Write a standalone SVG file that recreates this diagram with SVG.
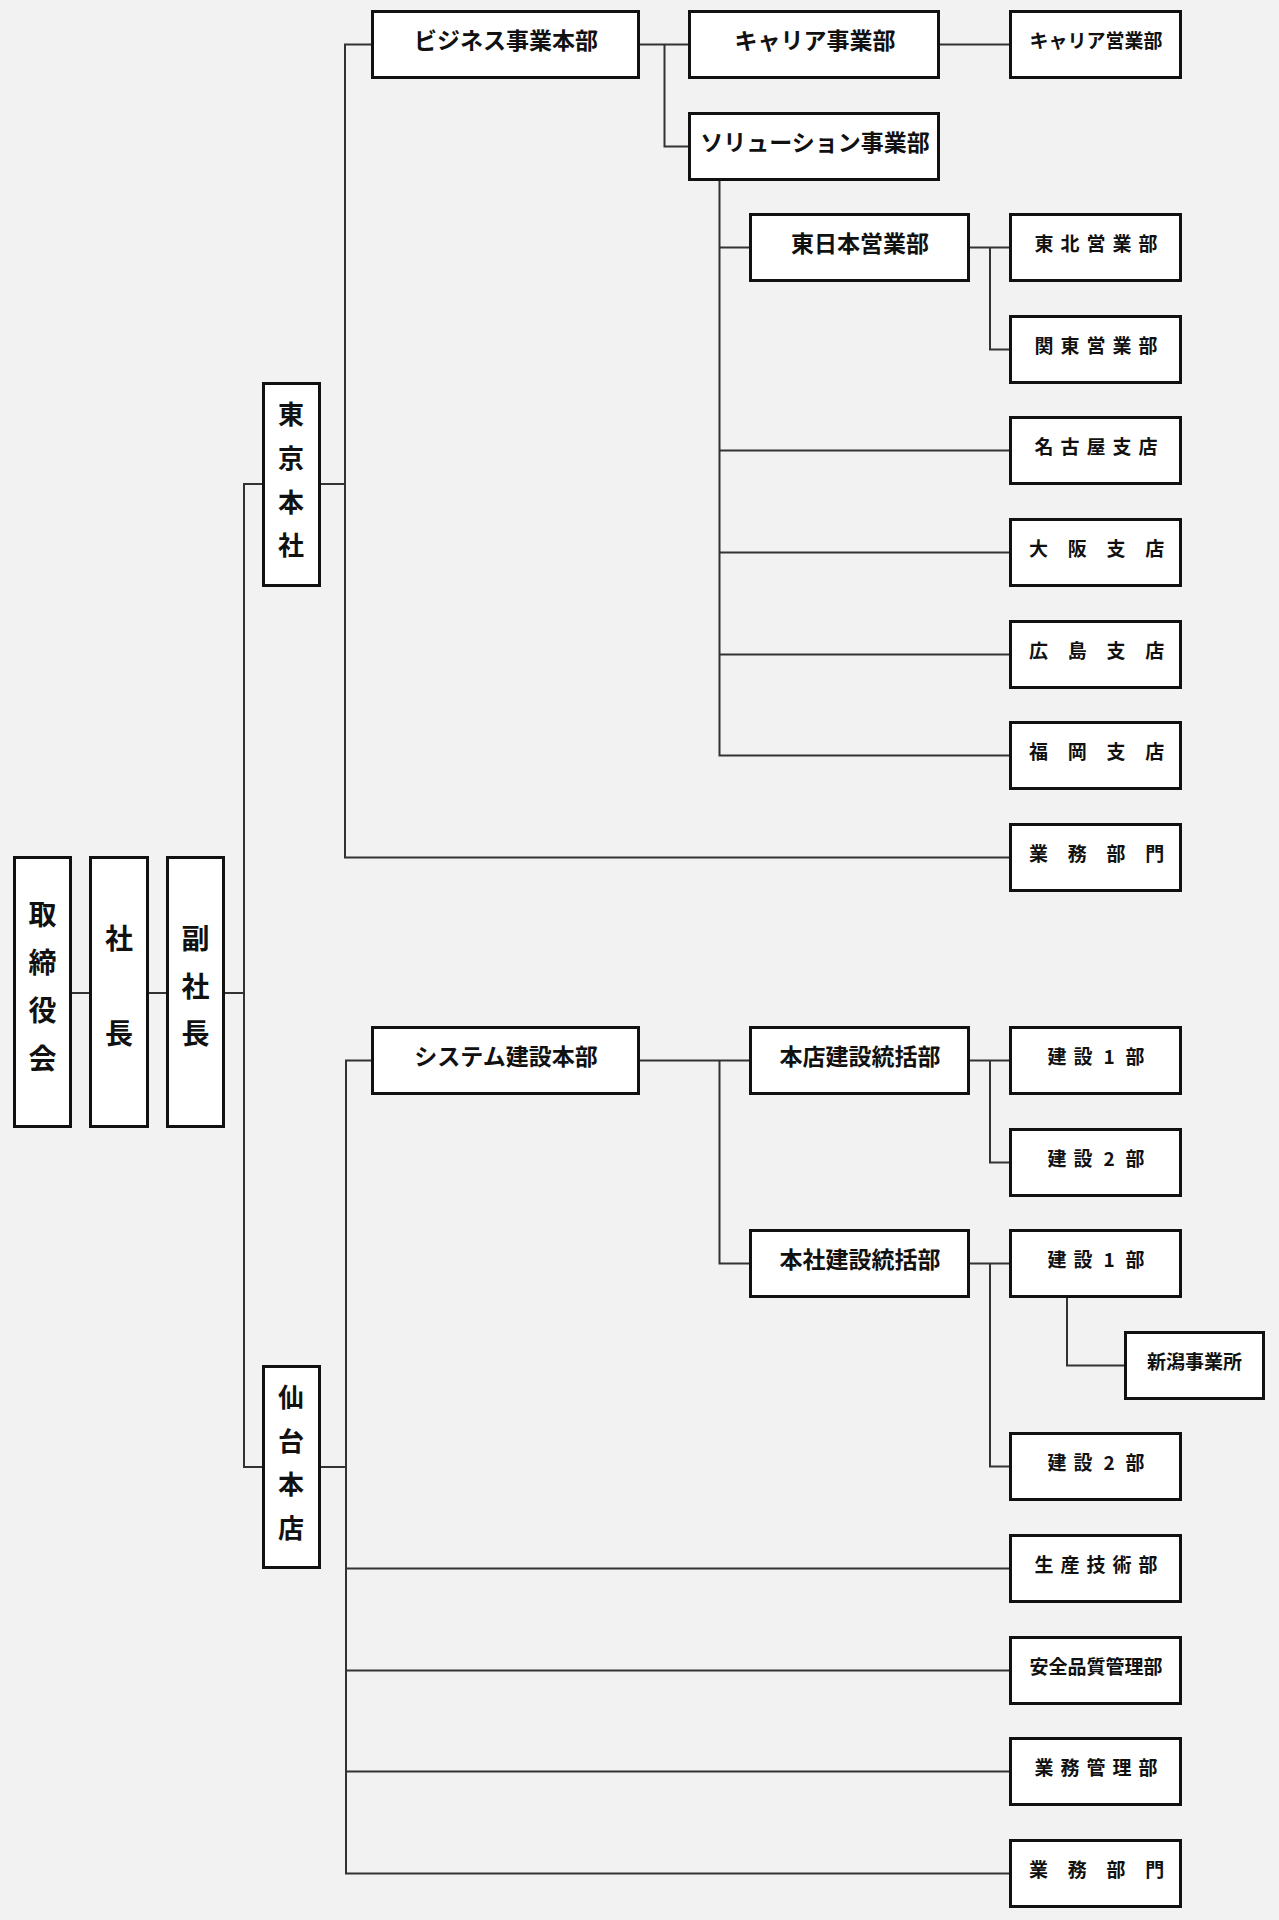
<svg xmlns="http://www.w3.org/2000/svg" width="1279" height="1920" viewBox="0 0 1279 1920">
<style>
.bg{fill:#f2f2f2}
.box{fill:#ffffff;stroke:#111111;stroke-width:3}
.ln{fill:none;stroke:#333333;stroke-width:2}
text{font-family:"Noto Sans CJK JP","Noto Sans",sans-serif;font-weight:bold;fill:#111111;text-anchor:middle;dominant-baseline:central}
.v{font-size:26px}
.vl{font-size:28px}
.m{font-size:23px}
.s{font-size:19px}
</style>
<rect class="bg" x="0" y="0" width="1279" height="1920"/>
<g id="connectors">
<path class="ln" d="M72 993H89M149 993H166M225 993H244"/>
<path class="ln" d="M262 484H244V1467H262"/>
<path class="ln" d="M321 484H345M371 44.5H345V857.5H1009"/>
<path class="ln" d="M640 44.5H688M664.5 44.5V146.5H688M940 44.5H1009"/>
<path class="ln" d="M719.5 180V755.5H1009M719.5 247.5H749M719.5 450.5H1009M719.5 552.5H1009M719.5 654.5H1009"/>
<path class="ln" d="M970 247.5H1009M990 247.5V349.5H1009"/>
<path class="ln" d="M321 1467H346M371 1060.5H346V1873.5H1009M346 1568.5H1009M346 1670.5H1009M346 1771.5H1009"/>
<path class="ln" d="M640 1060.5H749M719.5 1060.5V1263.5H749"/>
<path class="ln" d="M970 1060.5H1009M990 1060.5V1162.5H1009"/>
<path class="ln" d="M970 1263.5H1009M990 1263.5V1466.5H1009"/>
<path class="ln" d="M1067 1298V1365.5H1124"/>
</g>
<g id="n-torishimariyakukai"><rect class="box" x="14.5" y="857.5" width="56" height="269"/><text class="vl" x="42.5 42.5 42.5 42.5" y="913 961 1009 1057">取締役会</text></g>
<g id="n-shacho"><rect class="box" x="90.5" y="857.5" width="57" height="269"/><text class="vl" x="119 119" y="937 1032">社長</text></g>
<g id="n-fukushacho"><rect class="box" x="167.5" y="857.5" width="56" height="269"/><text class="vl" x="195.5 195.5 195.5" y="937 984.5 1032">副社長</text></g>
<g id="n-tokyo"><rect class="box" x="263.5" y="383.5" width="56" height="202"/><text class="v" x="291 291 291 291" y="412 456 500 543">東京本社</text></g>
<g id="n-sendai"><rect class="box" x="263.5" y="1366.5" width="56" height="201"/><text class="v" x="291 291 291 291" y="1395 1439 1482 1526">仙台本店</text></g>
<g id="n-business"><rect class="box" x="372.5" y="11.5" width="266" height="66"/><text class="m" x="506" y="39">ビジネス事業本部</text></g>
<g id="n-career"><rect class="box" x="689.5" y="11.5" width="249" height="66"/><text class="m" x="815" y="39">キャリア事業部</text></g>
<g id="n-career-sales"><rect class="box" x="1010.5" y="11.5" width="170" height="66"/><text class="s" x="1096" y="39">キャリア営業部</text></g>
<g id="n-solution"><rect class="box" x="689.5" y="113.5" width="249" height="66"/><text class="m" x="815" y="141">ソリューション事業部</text></g>
<g id="n-higashinihon"><rect class="box" x="750.5" y="214.5" width="218" height="66"/><text class="m" x="860" y="242">東日本営業部</text></g>
<g id="n-tohoku"><rect class="box" x="1010.5" y="214.5" width="170" height="66"/><text class="s" x="1044 1070 1096 1122 1148" y="242">東北営業部</text></g>
<g id="n-kanto"><rect class="box" x="1010.5" y="316.5" width="170" height="66"/><text class="s" x="1044 1070 1096 1122 1148" y="344">関東営業部</text></g>
<g id="n-nagoya"><rect class="box" x="1010.5" y="417.5" width="170" height="66"/><text class="s" x="1044 1070 1096 1122 1148" y="445">名古屋支店</text></g>
<g id="n-osaka"><rect class="box" x="1010.5" y="519.5" width="170" height="66"/><text class="s" x="1038.5 1077.3 1116 1154.8" y="547">大阪支店</text></g>
<g id="n-hiroshima"><rect class="box" x="1010.5" y="621.5" width="170" height="66"/><text class="s" x="1038.5 1077.3 1116 1154.8" y="649">広島支店</text></g>
<g id="n-fukuoka"><rect class="box" x="1010.5" y="722.5" width="170" height="66"/><text class="s" x="1038.5 1077.3 1116 1154.8" y="750">福岡支店</text></g>
<g id="n-gyomu-tokyo"><rect class="box" x="1010.5" y="824.5" width="170" height="66"/><text class="s" x="1038.5 1077.3 1116 1154.8" y="852">業務部門</text></g>
<g id="n-system"><rect class="box" x="372.5" y="1027.5" width="266" height="66"/><text class="m" x="506" y="1055">システム建設本部</text></g>
<g id="n-honten-kensetsu"><rect class="box" x="750.5" y="1027.5" width="218" height="66"/><text class="m" x="860" y="1055">本店建設統括部</text></g>
<g id="n-k1a"><rect class="box" x="1010.5" y="1027.5" width="170" height="66"/><text class="s" x="1057 1083 1109 1135" y="1055">建設1部</text></g>
<g id="n-k2a"><rect class="box" x="1010.5" y="1129.5" width="170" height="66"/><text class="s" x="1057 1083 1109 1135" y="1157">建設2部</text></g>
<g id="n-honsha-kensetsu"><rect class="box" x="750.5" y="1230.5" width="218" height="66"/><text class="m" x="860" y="1258">本社建設統括部</text></g>
<g id="n-k1b"><rect class="box" x="1010.5" y="1230.5" width="170" height="66"/><text class="s" x="1057 1083 1109 1135" y="1258">建設1部</text></g>
<g id="n-niigata"><rect class="box" x="1125.5" y="1332.5" width="138" height="66"/><text class="s" x="1194.5" y="1360">新潟事業所</text></g>
<g id="n-k2b"><rect class="box" x="1010.5" y="1433.5" width="170" height="66"/><text class="s" x="1057 1083 1109 1135" y="1461">建設2部</text></g>
<g id="n-seisan"><rect class="box" x="1010.5" y="1535.5" width="170" height="66"/><text class="s" x="1044 1070 1096 1122 1148" y="1563">生産技術部</text></g>
<g id="n-anzen"><rect class="box" x="1010.5" y="1637.5" width="170" height="66"/><text class="s" x="1096" y="1665">安全品質管理部</text></g>
<g id="n-gyomukanri"><rect class="box" x="1010.5" y="1738.5" width="170" height="66"/><text class="s" x="1044 1070 1096 1122 1148" y="1766">業務管理部</text></g>
<g id="n-gyomu-sendai"><rect class="box" x="1010.5" y="1840.5" width="170" height="66"/><text class="s" x="1038.5 1077.3 1116 1154.8" y="1868">業務部門</text></g>
</svg>
